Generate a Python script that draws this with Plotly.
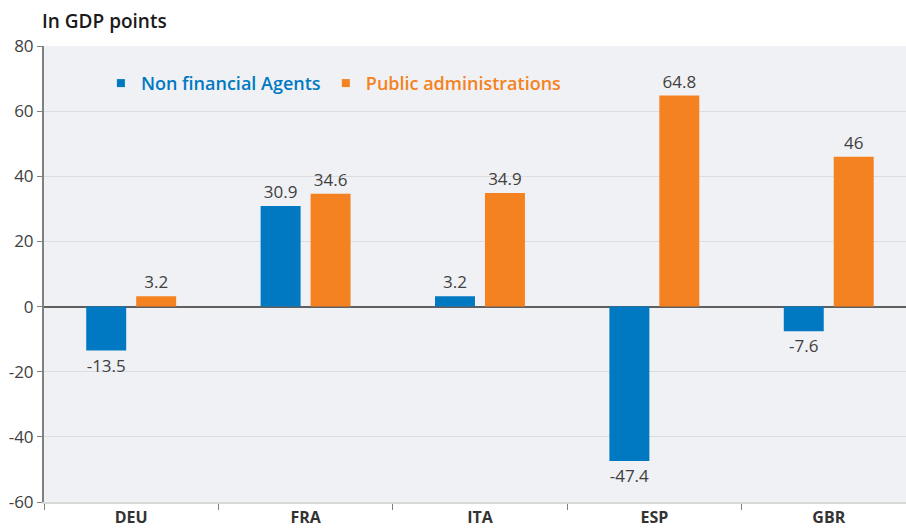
import plotly.graph_objects as go

categories = ["DEU", "FRA", "ITA", "ESP", "GBR"]
non_financial = [-13.5, 30.9, 3.2, -47.4, -7.6]
public_admin = [3.2, 34.6, 34.9, 64.8, 46]
y_ticks = [-60, -40, -20, 0, 20, 40, 60, 80]
y_tick_labels = ["-60", "-40", "-20", "0", "20", "40", "60", "80"]
series_names = ["Non financial Agents", "Public administrations"]

BLUE = "#0079c2"
ORANGE = "#f58220"
FONT = "Open Sans, Lato, sans-serif"

fig = go.Figure()
for vals, color, name in [(non_financial, BLUE, series_names[0]),
                          (public_admin, ORANGE, series_names[1])]:
    fig.add_trace(go.Bar(
        x=categories, y=vals, name=name, showlegend=False,
        marker=dict(color=color, line=dict(width=0)),
        text=[f"{v:g}" for v in vals], textposition="outside",
        textfont=dict(size=17, color="#404040", family=FONT), cliponaxis=False,
    ))
for color, name in [(BLUE, series_names[0]), (ORANGE, series_names[1])]:
    fig.add_trace(go.Scatter(
        x=[None], y=[None], mode="markers",
        name="<span style='color:%s'>%s</span>" % (color, name),
        marker=dict(symbol="square", size=8, color=color),
    ))

fig.update_layout(
    width=906, height=529,
    margin=dict(l=44, r=0, t=46, b=27),
    paper_bgcolor="white", plot_bgcolor="#f0f1f4",
    font=dict(family=FONT, size=16, color="#404040"),
    barmode="group", bargap=0.427, bargroupgap=0.2,
    title=dict(text="In GDP points", x=42/906, xanchor="left",
               y=1-21/529, yanchor="middle",
               font=dict(size=19, color="#1a1a1a", family=FONT, weight=600)),
    legend=dict(orientation="h", x=0.066, y=0.918, xanchor="left", yanchor="middle",
                bgcolor="rgba(0,0,0,0)", traceorder="normal",
                font=dict(size=18, family=FONT, weight=600)),
    xaxis=dict(type="category", range=[-0.5, 4.443], showline=True,
               linecolor="#d9d9d9", linewidth=1.5, ticks="outside",
               tickson="boundaries", ticklen=6, tickcolor="#7f7f7f",
               showgrid=False, automargin=False,
               tickfont=dict(size=16, color="#333333", family=FONT, weight="bold")),
    yaxis=dict(range=[-60, 80], tickvals=y_ticks, ticktext=y_tick_labels,
               showline=True, automargin=False,
               linecolor="#808080", linewidth=2, ticks="outside", ticklen=5,
               tickcolor="#808080", gridcolor="#dcdde0", gridwidth=1,
               zeroline=True, zerolinecolor="#5f5f5f", zerolinewidth=2,
               tickfont=dict(size=17, color="#404040", family=FONT)),
)

fig.write_html("out.html", config={"displayModeBar": False},
               post_script="document.body.style.margin='0';document.body.style.padding='0';")
